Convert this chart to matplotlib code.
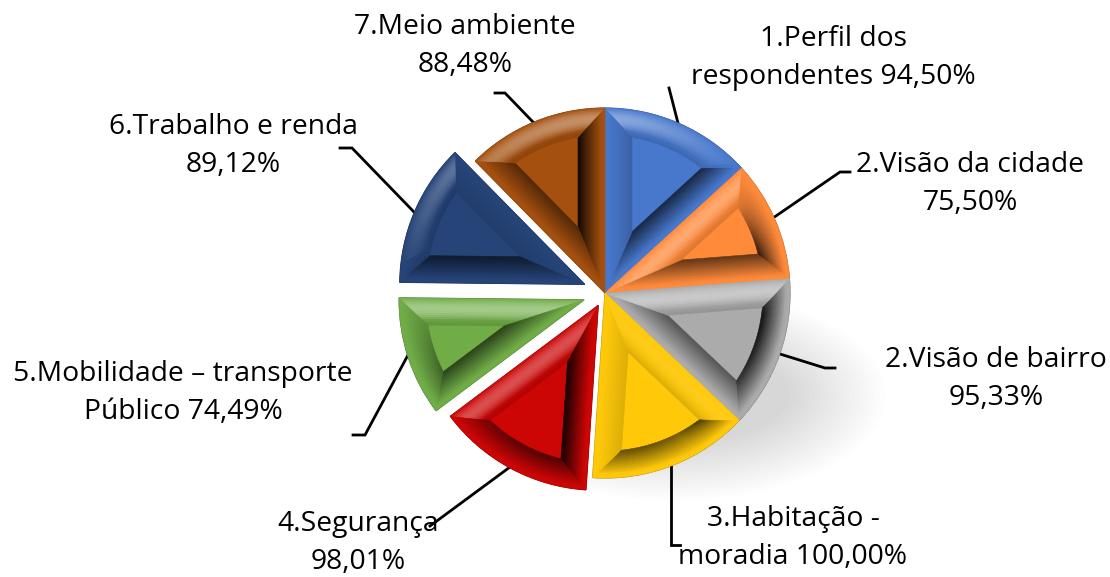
# -*- coding: utf-8 -*-
"""Exploded pie of the questionnaire sections, with bevelled slices"""

import numpy as np
import matplotlib
matplotlib.use('Agg')
import matplotlib.pyplot as plt
from matplotlib.colors import to_rgb
from matplotlib.patches import Circle, Ellipse, Polygon

plt.rcParams['font.family'] = ['Open Sans', 'DejaVu Sans']

labels = ['1.Perfil dos\nrespondentes 94,50%', '2.Visão da cidade\n75,50%',
          '2.Visão de bairro\n95,33%', '3.Habitação -\nmoradia 100,00%',
          '4.Segurança\n98,01%', '5.Mobilidade – transporte\nPúblico 74,49%',
          '6.Trabalho e renda\n89,12%', '7.Meio ambiente\n88,48%']
values = [94.50, 75.50, 95.33, 100.00, 98.01, 74.49, 89.12, 88.48]
# pie() takes these in data units, here pixels
explode = [0, 0, 0, 0, 14, 22, 22, 0]
colors = ['#4878CC', '#FF8A3A', '#ABABAB', '#FFC90A',
          '#CC0505', '#70AD47', '#264478', '#A5500F']

# label centres and leader lines, in picture pixels (y down)
label_xy = [(833, 58), (970, 184), (996, 379), (793, 538),
            (358, 543), (183, 393), (233, 146), (465, 46)]
leaders = [[(678, 123), (669, 88)],
           [(773, 218), (840, 172), (850, 172)],
           [(780, 354), (825, 368), (835, 368)],
           [(671, 465), (671, 545), (680, 545)],
           [(510, 467), (430, 526)],
           [(408, 355), (365, 435), (353, 435)],
           [(414, 212), (352, 148), (340, 148)],
           [(533, 122), (505, 93), (495, 93)]]

W, H = 1110, 577
BEVEL = 27
BANDS = 14


def flip(y):
    return H - y


def apex(w, d):
    """Corner of the wedge shape inset by d"""
    half = np.radians(w.theta2 - w.theta1) / 2
    mid = np.radians(w.theta1 + w.theta2) / 2
    dist = d / np.sin(half)
    return np.array([w.center[0] + dist * np.cos(mid),
                     w.center[1] + dist * np.sin(mid)])


def rim(w, d, u):
    """Point on the inset arc, u from 0 (theta1) to 1 (theta2)"""
    r = w.r - d
    da = np.degrees(np.arcsin(d / r))
    a = np.radians(w.theta1 + da + u * (w.theta2 - w.theta1 - 2 * da))
    return np.array([w.center[0] + r * np.cos(a), w.center[1] + r * np.sin(a)])


def shade(base, normal, t):
    """Colour of a bevel facet, t goes 0 at outer edge to 1 at inner edge"""
    base = np.array(to_rgb(base))
    nx, ny = normal
    if ny > 0:
        score = 0.9 * ny - 0.75 * max(nx, 0)
    else:
        score = min(0.45 * ny, -0.75 * max(nx, 0))
    if score > 0.1:
        lift = score * 0.42 * np.sin(np.pi * min(t * 1.2, 1))
        col = base + (1 - base) * lift
        return col * (1 - 0.15 * t ** 4)
    dark = min(0.2 - score, 1) * max(t - 0.15, 0) / 0.85
    return base * (1 - 0.95 * dark)


def draw_bevel(ax, w, base):
    steps = np.linspace(0, BEVEL, BANDS + 1)
    for i in range(BANDS):
        d0, d1 = steps[i], steps[i + 1]
        t = (i + 0.5) / BANDS
        for u, ang in ((0, w.theta1 - 90), (1, w.theta2 + 90)):
            n = np.cos(np.radians(ang)), np.sin(np.radians(ang))
            c = shade(base, n, t)
            ax.add_patch(Polygon([apex(w, d0), rim(w, d0, u), rim(w, d1, u),
                                  apex(w, d1)], fc=c, ec=c, lw=0.4, zorder=3))
        us = np.linspace(0, 1, 25)
        for u0, u1 in zip(us[:-1], us[1:]):
            a = np.radians(w.theta1 + (u0 + u1) / 2 * (w.theta2 - w.theta1))
            c = shade(base, (np.cos(a), np.sin(a)), t)
            ax.add_patch(Polygon([rim(w, d0, u0), rim(w, d0, u1),
                                  rim(w, d1, u1), rim(w, d1, u0)],
                                 fc=c, ec=c, lw=0.4, zorder=3.1))


fig = plt.figure(figsize=(W / 100, H / 100), dpi=100)
ax = fig.add_axes([0, 0, 1, 1])

wedges, _ = ax.pie(values, explode=explode, colors=colors, startangle=90,
                   counterclock=False, center=(605, flip(293)), radius=185,
                   wedgeprops={'zorder': 2})
ax.set_xlim(0, W)
ax.set_ylim(0, H)
ax.set_aspect('equal')
ax.axis('off')

# soft shadow lying under the lower right of the pie, gaps stay white
for k in range(20):
    ax.add_patch(Ellipse((675, flip(395)), 420 - 10 * k, 210 - 6 * k,
                         fc='k', ec='none', alpha=0.008, zorder=1))
ax.add_patch(Circle((605, flip(293)), 184, fc='w', ec='none', zorder=1.1))

for w, col in zip(wedges, colors):
    edge = np.array(to_rgb(col)) * 0.6
    w.set_edgecolor(edge)
    w.set_linewidth(0.8)
    draw_bevel(ax, w, col)

for pts in leaders:
    xs, ys = zip(*pts)
    ax.plot(xs, [flip(y) for y in ys], color='k', lw=2, zorder=1.5,
            solid_joinstyle='miter')

for txt, (x, y) in zip(labels, label_xy):
    ax.text(x, flip(y), txt, ha='center', va='center', fontsize=20.3,
            linespacing=1.5, color='k', zorder=5)

fig.savefig('out.png', dpi=100)
